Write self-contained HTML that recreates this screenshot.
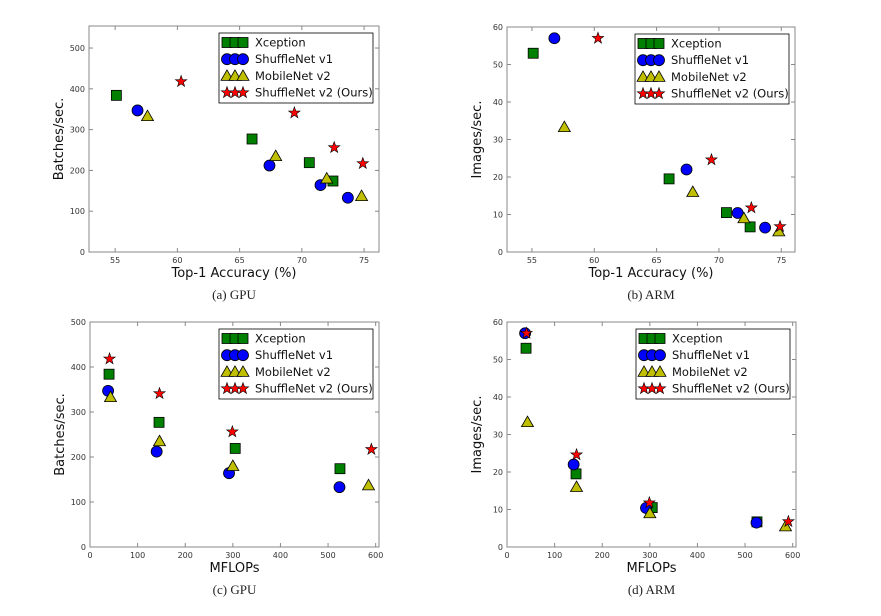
<!DOCTYPE html>
<html><head><meta charset="utf-8"><style>
html,body{margin:0;padding:0;background:#fff;}
svg{display:block;}
text{font-family:"DejaVu Sans","Liberation Sans",sans-serif;}
.cap{font-family:"Liberation Serif",serif;font-size:13px;fill:#222;}
</style></head><body>
<svg id="fig" width="881" height="616" viewBox="0 0 881 616" xmlns="http://www.w3.org/2000/svg"></svg>
<script>
const seriesNames = ["Xception","ShuffleNet v1","MobileNet v2","ShuffleNet v2 (Ours)"];
const accXception = [55.1,66.0,70.6,72.5];
const accShuffleV1 = [56.8,67.4,71.5,73.7];
const accMobileV2 = [57.6,67.9,72.0,74.8];
const accShuffleV2 = [60.3,69.4,72.6,74.9];
const flopsXception = [40,145,305,525];
const flopsShuffleV1 = [38,140,292,524];
const flopsMobileV2 = [43,146,300,585];
const flopsShuffleV2 = [41,146,299,591];
const gpuXception = [384,277,219,174];
const gpuShuffleV1 = [347,212,164,133];
const gpuMobileV2 = [333,235,180,137];
const gpuShuffleV2 = [418,341,256,217];
const armXception = [53,19.5,10.5,6.7];
const armShuffleV1 = [57,22,10.4,6.5];
const armMobileV2 = [33.3,16,9,5.5];
const armShuffleV2 = [57,24.6,11.8,6.8];
const accTicks = [55,60,65,70,75];
const flopsTicks = [0,100,200,300,400,500,600];
const gpuTicks = [0,100,200,300,400,500];
const armTicks = [0,10,20,30,40,50,60];

const NS="http://www.w3.org/2000/svg";
const svg=document.getElementById('fig');
function mk(tag,attrs,parent){const e=document.createElementNS(NS,tag);for(const k in attrs)e.setAttribute(k,attrs[k]);(parent||svg).appendChild(e);return e;}

function marker(g,type,cx,cy){
  let e;
  if(type===0){e=mk('rect',{x:cx-5,y:cy-5,width:10,height:10,fill:'#008000',stroke:'#000','stroke-width':0.8},g);}
  else if(type===1){e=mk('circle',{cx:cx,cy:cy,r:5.5,fill:'#0000ff',stroke:'#000','stroke-width':0.8},g);}
  else if(type===2){e=mk('polygon',{points:`${cx},${cy-6} ${cx+6},${cy+4.5} ${cx-6},${cy+4.5}`,fill:'#bfbf00',stroke:'#000','stroke-width':0.8},g);}
  else {let p=[];for(let i=0;i<10;i++){const r=i%2?2.4:6;const a=-Math.PI/2+i*Math.PI/5;p.push((cx+r*Math.cos(a)).toFixed(2)+','+(cy+r*Math.sin(a)).toFixed(2));}
    e=mk('polygon',{points:p.join(' '),fill:'#ff0000',stroke:'#000','stroke-width':0.6},g);}
  return e;
}

function panel(cfg){
  const g=mk('g',{});
  
  
  const {L,R,T,B,x0,x1,y0,y1}=cfg;
  const sx=v=>L+(v-x0)/(x1-x0)*(R-L);
  const sy=v=>B-(v-y0)/(y1-y0)*(B-T);
  const frame=mk('rect',{x:L,y:T,width:R-L,height:B-T,fill:'#fff',stroke:'#888','stroke-width':1},g);
  
  
  cfg.xticks.forEach(t=>{const x=sx(t);
    mk('line',{x1:x,y1:B,x2:x,y2:B-4,stroke:'#888'},g);mk('line',{x1:x,y1:T,x2:x,y2:T+4,stroke:'#888'},g);
    const tx=mk('text',{x:x,y:B+11,'font-size':8,'text-anchor':'middle',fill:'#333'},g);tx.textContent=t;
    
    });
  cfg.yticks.forEach(t=>{const y=sy(t);
    mk('line',{x1:L,y1:y,x2:L+4,y2:y,stroke:'#888'},g);mk('line',{x1:R,y1:y,x2:R-4,y2:y,stroke:'#888'},g);
    const tx=mk('text',{x:L-4,y:y+3,'font-size':8,'text-anchor':'end',fill:'#333'},g);tx.textContent=t;
    
    });
  const xl=mk('text',{x:(L+R)/2,y:B+25,'font-size':13,'text-anchor':'middle',fill:'#111'},g);xl.textContent=cfg.xlabel;
  
  
  const yl=mk('text',{x:0,y:0,'font-size':13,'text-anchor':'middle',fill:'#111',transform:`translate(${L-26},${(T+B)/2}) rotate(-90)`},g);yl.textContent=cfg.ylabel;
  
  
  const cap=mk('text',{x:(L+R)/2,y:B+47,'text-anchor':'middle',class:'cap'},g);cap.textContent=cfg.caption;
  
  
  cfg.series.forEach((s,si)=>{
    s.xs.forEach((xv,i)=>{const m=marker(g,si,sx(xv),sy(s.ys[i]));
      
      });
  });
  const lx=R-160, ly=T+7;
  const lg=mk('g',{},g);
  
  
  mk('rect',{x:lx,y:ly,width:154,height:70,fill:'#fff',stroke:'#000','stroke-width':0.8},lg);
  seriesNames.forEach((n,i)=>{const y=ly+9.5+i*16.7;
    [8,16,24].forEach(dx=>marker(lg,i,lx+dx,y));
    const t=mk('text',{x:lx+36,y:y+4,'font-size':11.5,fill:'#111'},lg);t.textContent=n;
    
    });
}

panel({name:'panel-a-gpu-accuracy',L:89,R:379,T:26,B:252,x0:52.9,x1:76.2,y0:0,y1:554,xticks:accTicks,yticks:gpuTicks,xlabel:'Top-1 Accuracy (%)',ylabel:'Batches/sec.',caption:'(a) GPU',
 series:[{xs:accXception,ys:gpuXception},{xs:accShuffleV1,ys:gpuShuffleV1},{xs:accMobileV2,ys:gpuMobileV2},{xs:accShuffleV2,ys:gpuShuffleV2}]});
panel({name:'panel-b-arm-accuracy',L:507,R:795,T:27,B:252,x0:53,x1:76.1,y0:0,y1:60,xticks:accTicks,yticks:armTicks,xlabel:'Top-1 Accuracy (%)',ylabel:'Images/sec.',caption:'(b) ARM',
 series:[{xs:accXception,ys:armXception},{xs:accShuffleV1,ys:armShuffleV1},{xs:accMobileV2,ys:armMobileV2},{xs:accShuffleV2,ys:armShuffleV2}]});
panel({name:'panel-c-gpu-mflops',L:90,R:379,T:322,B:547,x0:0,x1:607,y0:0,y1:500,xticks:flopsTicks,yticks:gpuTicks,xlabel:'MFLOPs',ylabel:'Batches/sec.',caption:'(c) GPU',
 series:[{xs:flopsXception,ys:gpuXception},{xs:flopsShuffleV1,ys:gpuShuffleV1},{xs:flopsMobileV2,ys:gpuMobileV2},{xs:flopsShuffleV2,ys:gpuShuffleV2}]});
panel({name:'panel-d-arm-mflops',L:507,R:796,T:322,B:547,x0:0,x1:607,y0:0,y1:60,xticks:flopsTicks,yticks:armTicks,xlabel:'MFLOPs',ylabel:'Images/sec.',caption:'(d) ARM',
 series:[{xs:flopsXception,ys:armXception},{xs:flopsShuffleV1,ys:armShuffleV1},{xs:flopsMobileV2,ys:armMobileV2},{xs:flopsShuffleV2,ys:armShuffleV2}]});
</script>
</body></html>
